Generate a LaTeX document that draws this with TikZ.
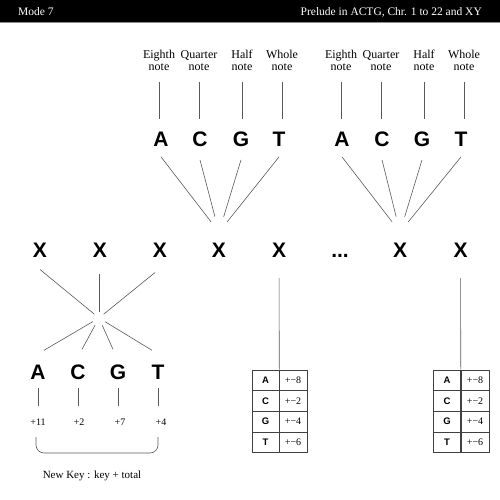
\documentclass[tikz,border=0pt]{standalone}
\usepackage{fontspec}
\setmainfont{Liberation Serif}
\newfontfamily\sansf{Liberation Sans}
\usetikzlibrary{calc}
\newcommand{\mystrut}{\rule{0pt}{9pt}}
\tikzset{
 conn/.style={draw=black!65, line width=0.6pt},
 big/.style={font=\sansf\bfseries\fontsize{21}{21}\selectfont, inner sep=0pt, text height=15pt, text depth=0pt, anchor=base},
 lab/.style={font=\fontsize{12}{12.5}\selectfont, align=center, inner sep=0pt, anchor=north},
 hdr/.style={font=\fontsize{11.5}{12}\selectfont, text=white, inner sep=0pt},
 num/.style={font=\fontsize{10}{10}\selectfont, inner sep=0pt, anchor=base},
 cell/.style={draw=black!75, line width=0.6pt, minimum height=20.6pt, inner sep=0pt},
 cl/.style={cell, minimum width=27pt, font=\sansf\bfseries\fontsize{9.5}{10}\selectfont},
 cv/.style={cell, minimum width=28pt, font=\fontsize{10}{10}\selectfont},
}
\begin{document}
\begin{tikzpicture}[x=1pt,y=-1pt]
\useasboundingbox (0,0) rectangle (500,500);
% header
\fill[black] (0,0) rectangle (500,22.5);
\draw[black!45, line width=1pt] (0,23) -- (500,23);
\node[hdr, anchor=base west] (mode) at (18,15.5) {Mode 7};
\node[hdr, anchor=base east] (title) at (482,15.5) {Prelude in ACTG, Chr. 1 to 22 and XY};
% top labels
\node[lab] (e1) at (159,49) {\mystrut Eighth\\note};
\node[lab] (q1) at (199,49) {\mystrut Quarter\\note};
\node[lab] (h1) at (242,49) {\mystrut Half\\note};
\node[lab] (w1) at (282,49) {\mystrut Whole\\note};
\node[lab] (e2) at (341,49) {\mystrut Eighth\\note};
\node[lab] (q2) at (381,49) {\mystrut Quarter\\note};
\node[lab] (h2) at (424,49) {\mystrut Half\\note};
\node[lab] (w2) at (464,49) {\mystrut Whole\\note};
% top letters
\node[big] (la1) at (161,146.7) {A};
\node[big] (lc1) at (200,146.7) {C};
\node[big] (lg1) at (241,146.7) {G};
\node[big] (lt1) at (279,146.7) {T};
\node[big] (la2) at (342,146.7) {A};
\node[big] (lc2) at (382,146.7) {C};
\node[big] (lg2) at (422,146.7) {G};
\node[big] (lt2) at (461,146.7) {T};
\foreach \l/\t in {e1/la1,q1/lc1,h1/lg1,w1/lt1,e2/la2,q2/lc2,h2/lg2,w2/lt2}
  \draw[conn, shorten <=10.5pt, shorten >=12.7pt] (\l.south) -- (\l.south |- \t.north);
% X row
\node[big] (x1) at (40,257.3) {X};
\node[big] (x2) at (100,257.3) {X};
\node[big] (x3) at (160,257.3) {X};
\node[big] (x4) at (219,257.3) {X};
\node[big] (x5) at (279,257.3) {X};
\node[big] (dots) at (340,257.3) {...};
\node[big] (x7) at (400,257.3) {X};
\node[big] (x8) at (460.5,257.3) {X};
% fans
\coordinate (k1) at ($(x4.north)+(0,-10)$);
\coordinate (k2) at ($(x7.north)+(0,-10)$);
\foreach \k/\a/\c/\g/\t in {k1/la1/lc1/lg1/lt1,k2/la2/lc2/lg2/lt2}{
  \draw[conn, shorten >=13pt] ($(\a.south)+(0,10)$) -- (\k);
  \draw[conn, shorten >=16pt] ($(\c.south)+(0,13)$) -- (\k);
  \draw[conn, shorten >=16pt] ($(\g.south)+(0,13)$) -- (\k);
  \draw[conn, shorten >=13pt] ($(\t.south)+(0,10)$) -- (\k);
}
% bottom letters
\node[big] (ba) at (38,379.5) {A};
\node[big] (bc) at (78,379.5) {C};
\node[big] (bg) at (118,379.5) {G};
\node[big] (bt) at (158,379.5) {T};
% star
\coordinate (s) at (99,318);
\draw[conn, shorten >=6pt] ($(x1.south)+(0,12)$) -- (s);
\draw[conn, shorten >=6pt] ($(s |- x2.south)+(0,16)$) -- (s);
\draw[conn, shorten >=6pt] ($(x3.south)+(-5,15)$) -- (s);
\draw[conn, shorten <=7pt] (s) -- ($(ba.north)+(6,-14)$);
\draw[conn, shorten <=8pt] (s) -- ($(bc.north)+(4,-15)$);
\draw[conn, shorten <=8pt] (s) -- ($(bg.north)+(-5,-15)$);
\draw[conn, shorten <=7pt] (s) -- ($(bt.north)+(-6,-14)$);
% numbers
\node[num] (p1) at (38,425.7) {+11};
\node[num] (p2) at (79,425.7) {+2};
\node[num] (p3) at (120,425.7) {+7};
\node[num] (p4) at (161,425.7) {+4};
\foreach \l/\p in {ba/p1,bc/p2,bg/p3,bt/p4}
  \draw[conn, shorten <=8.5pt, shorten >=12.9pt] (\l.south) -- (\l.south |- \p.north);
\draw[conn, rounded corners=8pt] (36,437) -- (36,453) -- (158,453) -- (158,437);
\node[font=\fontsize{11}{11}\selectfont, anchor=base, inner sep=0pt] (nk) at (92,478) {New Key : key + total};
% tables
\foreach \tn/\xl/\xr in {t/265.5/293, u/447/475}{
  \node[cl] (\tn a) at (\xl,380.3) {A};
  \node[cv] (\tn av) at (\xr,380.3) {+−8};
  \node[cl] (\tn c) at (\xl,400.9) {C};
  \node[cv] (\tn cv) at (\xr,400.9) {+−2};
  \node[cl] (\tn g) at (\xl,421.5) {G};
  \node[cv] (\tn gv) at (\xr,421.5) {+−4};
  \node[cl] (\tn t) at (\xl,442.1) {T};
  \node[cv] (\tn tv) at (\xr,442.1) {+−6};
}
\draw[conn, shorten <=20.7pt] (x5.south) -- (ta.north east);
\draw[conn, shorten <=20.7pt] (x8.south) -- (ua.north east);
\end{tikzpicture}
\end{document}
